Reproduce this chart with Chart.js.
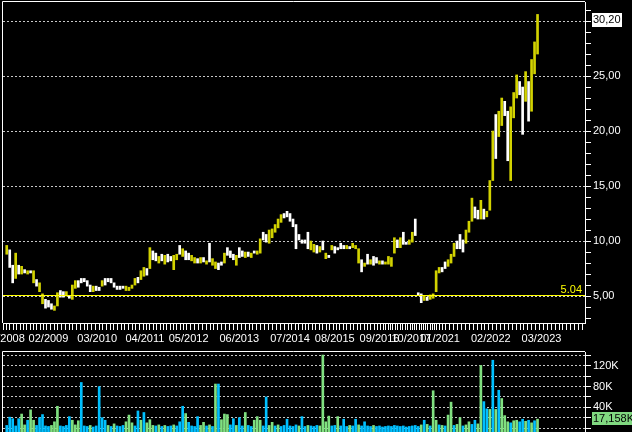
<!DOCTYPE html>
<html>
<head>
<meta charset="utf-8">
<script src="https://cdn.jsdelivr.net/npm/chart.js@4.4.0/dist/chart.umd.min.js"></script>
<style>
    html, body { margin: 0; padding: 0; background: #000; overflow: hidden; }
    #wrap { position: relative; width: 632px; height: 432px; }
    canvas { position: absolute; left: 0; }
    #priceChart { top: 0; }
    #volumeChart { top: 346px; }
</style>
</head>
<body>
<div id="wrap">
    <canvas id="priceChart" width="632" height="346"></canvas>
    <canvas id="volumeChart" width="632" height="86"></canvas>
</div>
<script>
// 1. Data (one bar per trading period)
const priceLow = [
    8.8,7.6,6.2,6.6,7.0,7.0,7.1,7.0,7.1,6.2,
    5.9,5.4,4.3,3.9,4.0,3.8,3.7,4.1,4.9,4.9,
    5.0,4.8,4.7,5.7,5.8,6.2,6.3,5.9,5.4,5.4,
    5.5,5.5,5.9,6.0,6.3,6.2,5.8,5.6,5.6,5.7,
    5.5,5.5,5.7,6.0,6.2,6.5,6.8,6.9,7.5,8.3,
    8.2,8.0,8.2,7.9,8.1,8.2,7.4,8.3,8.8,8.6,
    8.3,8.3,8.2,8.0,8.0,8.0,8.1,7.9,8.1,7.8,
    7.5,7.4,7.8,8.0,8.7,8.5,8.3,7.8,8.5,8.6,
    8.5,8.6,8.5,8.9,8.8,8.9,10.1,9.9,9.8,10.3,
    10.8,11.2,11.7,12.1,12.2,11.8,11.3,9.3,10.1,9.8,
    9.8,9.3,9.2,9.0,8.9,9.0,9.2,8.4,8.5,9.2,
    8.9,9.2,9.3,9.3,9.3,9.3,9.4,9.3,8.0,7.2,
    7.7,7.9,7.9,7.8,8.0,7.9,7.9,7.9,7.9,7.7,
    8.9,9.4,9.4,9.7,9.7,9.7,9.9,10.5,5.1,4.4,
    4.6,4.6,4.7,4.8,5.4,7.1,7.2,7.5,7.7,8.0,
    8.6,9.3,9.3,9.0,9.8,10.8,11.8,12.1,12.0,12.0,
    12.0,12.2,12.8,15.5,17.5,19.5,20.5,21.4,17.3,15.5,
    21.2,23.0,23.3,19.7,22.7,20.9,21.8,25.2,27.0
];
const priceHigh = [
    9.6,9.2,7.8,8.9,7.8,7.7,7.4,7.3,7.3,7.3,
    6.5,6.2,5.2,4.7,4.6,4.3,4.1,5.3,5.5,5.4,
    5.4,5.0,6.0,6.4,6.4,6.6,6.6,6.4,6.0,5.9,
    5.9,5.8,6.4,6.6,6.6,6.6,6.2,5.9,5.9,5.9,
    5.9,5.8,6.0,6.6,6.7,7.3,7.6,7.5,9.4,9.1,
    8.9,8.6,8.8,8.7,8.8,8.6,8.7,8.8,9.6,9.3,
    9.1,8.9,8.7,8.5,8.4,8.5,8.5,8.2,9.8,8.4,
    8.1,8.0,8.1,8.9,9.4,9.1,8.8,8.7,9.4,9.1,
    9.0,9.0,8.9,9.1,9.1,10.2,10.8,10.6,11.0,11.1,
    11.5,12.0,12.4,12.5,12.7,12.5,12.0,11.5,10.6,10.1,
    10.1,10.8,10.0,9.7,9.6,9.5,10.0,8.9,8.7,9.6,
    9.5,9.4,9.8,9.6,9.6,9.5,9.8,9.6,9.3,8.3,
    8.0,8.8,8.3,8.6,8.5,8.2,8.2,8.1,8.6,8.5,
    10.3,10.1,10.3,10.8,9.9,10.1,10.8,12.0,5.3,5.2,
    5.0,4.9,5.1,5.2,7.3,7.6,7.6,8.1,8.3,8.8,
    9.8,10.0,10.6,10.1,11.0,11.8,13.9,13.1,12.8,13.7,
    12.9,12.7,15.5,20.0,21.5,21.8,23.0,22.7,21.8,22.2,
    23.5,25.1,24.5,24.0,25.4,24.5,26.5,28.1,30.6
];
// 1 = up bar (white), 0 = down bar (yellow)
const priceUp = [
    0,1,1,0,1,0,1,0,1,0,
    1,0,0,1,1,1,0,0,1,1,
    0,1,0,0,1,1,1,1,1,0,
    1,1,0,1,1,1,1,1,1,1,
    0,0,0,0,1,0,0,1,0,1,
    1,0,1,0,1,1,0,0,1,0,
    1,1,0,0,1,0,1,0,1,0,
    0,1,1,0,1,1,1,0,1,1,
    0,1,0,1,0,0,1,1,0,0,
    0,0,0,1,1,1,1,1,1,1,
    1,1,0,0,1,0,1,0,1,0,
    1,1,1,1,0,1,0,0,0,1,
    0,1,0,1,1,0,1,0,0,0,
    0,1,0,1,1,0,0,1,1,1,
    0,1,0,0,0,0,1,1,0,0,
    0,1,1,1,0,0,0,1,1,0,
    1,0,0,0,1,0,0,1,1,0,
    0,0,1,1,0,1,0,0,0
];
// volume in thousands
const volume = [
    5,21,18,4,18,27,6,15,35,15,
    5,20,26,4,3,5,12,42,4,3,
    5,22,15,6,14,88,4,3,5,2,
    4,80,20,15,5,3,8,4,3,5,
    12,25,10,4,33,15,30,10,16,5,
    4,6,3,5,3,4,6,4,12,42,
    28,11,4,3,22,5,11,4,6,3,
    85,85,16,27,26,6,18,5,20,4,
    30,5,3,15,22,15,4,60,5,11,
    4,6,3,5,17,4,3,6,4,22,
    3,5,4,3,5,4,141,12,23,4,
    5,22,4,17,3,5,4,17,6,4,
    12,4,3,5,3,4,2,3,4,3,
    5,4,3,4,2,3,4,5,3,6,
    15,7,4,72,15,6,5,4,25,50,
    5,7,20,4,6,12,7,15,8,121,
    51,37,36,131,36,73,57,24,12,10,
    14,15,12,17,13,15,10,14,17.158
];
// 1 = green, 0 = cyan
const volumeUp = [
    0,0,0,0,0,1,1,0,1,1,
    0,0,0,0,0,1,1,1,0,0,
    0,0,1,1,1,0,0,0,1,0,
    0,0,0,0,1,0,1,0,0,0,
    1,1,1,0,0,1,0,1,1,1,
    0,1,0,1,0,0,1,0,0,0,
    1,0,0,0,0,1,1,0,1,0,
    1,0,1,1,1,0,0,1,0,0,
    1,0,0,1,1,1,0,0,1,1,
    0,1,0,0,0,0,0,0,1,0,
    0,1,0,0,0,1,1,1,1,0,
    0,1,0,0,0,1,0,0,1,0,
    0,0,0,1,0,0,0,0,0,0,
    0,0,0,0,0,0,0,0,0,1,
    0,1,0,1,1,0,1,0,1,1,
    0,1,1,0,1,1,0,0,1,1,
    0,0,1,0,1,0,1,1,1,0,
    1,1,0,0,1,0,1,0,1
];

// date labels and the bar position they sit at
const dateLabels = ['01/2008','02/2009','03/2010','04/2011','05/2012','06/2013','07/2014',
                    '08/2015','09/2016','10/2017','01/2021','02/2022','03/2023'];
const dateLabelAt = [-0.6, 14.0, 30.33, 46.33, 61.0, 78.0, 95.0, 110.0, 125.0, 135.67, 145.33, 162.33, 179.33];

const REF_LEVEL = 5.04;
const LAST_CLOSE = 30.20;

// 2. Scale ranges
const X_MIN = -2 / 3;
const X_MAX = X_MIN + 194;
const PRICE_MIN = 2.55;
const PRICE_MAX = 31.73;
const VOL_MIN = -7.7;
const VOL_MAX = 146.9;

const priceTicks = [];
for (let v = 3; v <= 31; v++) priceTicks.push(v);
const volumeTicks = [0, 20, 40, 60, 80, 100, 120, 140];

// monthly tick marks between the label anchors
const monthTicks = [];
for (let k = 0; k < dateLabelAt.length - 1; k++) {
    const a = dateLabelAt[k], b = dateLabelAt[k + 1];
    for (let m = 0; m < 13; m++) monthTicks.push(a + (b - a) * m / 13);
}
const lastStep = (dateLabelAt[12] - dateLabelAt[11]) / 13;
for (let v = dateLabelAt[12]; v < X_MAX; v += lastStep) monthTicks.push(v);

const FONT = "'Liberation Sans', Arial, sans-serif";
Chart.defaults.font.family = FONT;
Chart.defaults.font.size = 11;
Chart.defaults.color = '#ffffff';

// 3. Extra drawing: left/top frame, reference line, last value boxes
const priceDecor = {
    id: 'priceDecor',
    afterDatasetsDraw(chart) {
        const { ctx, chartArea: a } = chart;
        const y = chart.scales.y;
        ctx.save();
        ctx.strokeStyle = '#ffffff';
        ctx.lineWidth = 1;
        ctx.beginPath();
        ctx.moveTo(a.left - 0.5, a.bottom);
        ctx.lineTo(a.left - 0.5, a.top - 0.5);
        ctx.lineTo(a.right, a.top - 0.5);
        ctx.stroke();

        const yl = Math.round(y.getPixelForValue(REF_LEVEL)) - 0.5;
        ctx.strokeStyle = '#ffff00';
        ctx.beginPath();
        ctx.moveTo(a.left, yl);
        ctx.lineTo(a.right, yl);
        ctx.stroke();
        ctx.fillStyle = '#ffff00';
        ctx.font = '11px ' + FONT;
        ctx.textAlign = 'right';
        ctx.textBaseline = 'bottom';
        ctx.fillText(REF_LEVEL.toFixed(2), a.right - 3, yl);

        const yc = Math.round(y.getPixelForValue(LAST_CLOSE));
        ctx.fillStyle = '#ffffff';
        ctx.fillRect(a.right + 7, yc - 6, 30, 14);
        ctx.fillStyle = '#000000';
        ctx.textAlign = 'left';
        ctx.textBaseline = 'middle';
        ctx.fillText(LAST_CLOSE.toFixed(2).replace('.', ','), a.right + 8, yc + 1);
        ctx.restore();
    }
};

const volumeDecor = {
    id: 'volumeDecor',
    afterDatasetsDraw(chart) {
        const { ctx, chartArea: a } = chart;
        const y = chart.scales.y;
        ctx.save();
        ctx.strokeStyle = '#ffffff';
        ctx.lineWidth = 1;
        ctx.beginPath();
        ctx.moveTo(a.left - 0.5, a.bottom);
        ctx.lineTo(a.left - 0.5, a.top - 0.5);
        ctx.lineTo(a.right, a.top - 0.5);
        ctx.stroke();

        const last = volume[volume.length - 1];
        const yc = Math.round(y.getPixelForValue(last));
        ctx.fillStyle = '#80d880';
        ctx.fillRect(a.right + 7, yc - 7, 50, 13);
        ctx.fillStyle = '#000000';
        ctx.font = '11px ' + FONT;
        ctx.textAlign = 'left';
        ctx.textBaseline = 'middle';
        ctx.fillText(last.toFixed(3).replace('.', ',') + 'K', a.right + 8, yc);
        ctx.restore();
    }
};

// 4. Shared x scale
function xScale(show) {
    return {
        type: 'linear',
        display: show,
        min: X_MIN,
        max: X_MAX,
        afterBuildTicks: s => { s.ticks = monthTicks.map(v => ({ value: v })); },
        afterFit: s => {
            if (show) s.height = 23;
            s.paddingLeft = 0;
            s.paddingRight = 0;
        },
        grid: { drawOnChartArea: false, tickColor: '#ffffff', tickLength: 7 },
        border: { color: '#ffffff' },
        ticks: {
            color: '#ffffff',
            padding: 2,
            autoSkip: false,
            maxRotation: 0,
            callback: v => {
                const k = dateLabelAt.indexOf(v);
                return k >= 0 ? dateLabels[k] : '';
            }
        }
    };
}

// 5. Price chart
new Chart(document.getElementById('priceChart').getContext('2d'), {
    type: 'bar',
    data: {
        datasets: [{
            data: priceLow.map((lo, i) => ({ x: i, y: [lo, priceHigh[i]] })),
            backgroundColor: c => priceUp[c.dataIndex] ? '#ffffff' : '#d2d200',
            barThickness: 2,
            borderWidth: 0,
            grouped: false
        }]
    },
    options: {
        responsive: false,
        animation: false,
        events: [],
        devicePixelRatio: 1,
        layout: { padding: { left: 3, top: 2, right: 0, bottom: 0 } },
        plugins: { legend: { display: false }, tooltip: { enabled: false } },
        scales: {
            x: xScale(true),
            y: {
                position: 'right',
                min: PRICE_MIN,
                max: PRICE_MAX,
                afterBuildTicks: s => { s.ticks = priceTicks.map(v => ({ value: v })); },
                afterFit: s => { s.width = 47; s.paddingTop = 0; s.paddingBottom = 0; },
                grid: {
                    color: c => (c.tick && c.tick.value % 5 === 0) ? '#c8c8c8' : 'rgba(0,0,0,0)',
                    tickColor: '#ffffff',
                    tickLength: 6
                },
                border: { color: '#ffffff', dash: [2, 2] },
                ticks: {
                    color: '#ffffff',
                    padding: 2,
                    autoSkip: false,
                    callback: v => (v % 5 === 0 && v !== 30) ? v.toFixed(2).replace('.', ',') : ''
                }
            }
        }
    },
    plugins: [priceDecor]
});

// 6. Volume chart
new Chart(document.getElementById('volumeChart').getContext('2d'), {
    type: 'bar',
    data: {
        datasets: [{
            data: volume.map((v, i) => ({ x: i, y: v })),
            backgroundColor: c => volumeUp[c.dataIndex] ? '#80e080' : '#00c0ff',
            base: VOL_MIN,
            barThickness: 2,
            borderWidth: 0,
            grouped: false
        }]
    },
    options: {
        responsive: false,
        animation: false,
        events: [],
        devicePixelRatio: 1,
        layout: { padding: { left: 3, top: 6, right: 0, bottom: 0 } },
        plugins: { legend: { display: false }, tooltip: { enabled: false } },
        scales: {
            x: xScale(false),
            y: {
                position: 'right',
                min: VOL_MIN,
                max: VOL_MAX,
                afterBuildTicks: s => { s.ticks = volumeTicks.map(v => ({ value: v })); },
                afterFit: s => { s.width = 47; s.paddingTop = 0; s.paddingBottom = 0; },
                grid: { color: '#c8c8c8', tickColor: '#ffffff', tickLength: 6 },
                border: { color: '#ffffff', dash: [2, 2] },
                ticks: {
                    color: '#ffffff',
                    padding: 2,
                    autoSkip: false,
                    callback: v => (v === 40 || v === 80 || v === 120) ? v + 'K' : ''
                }
            }
        }
    },
    plugins: [volumeDecor]
});
</script>
</body>
</html>
